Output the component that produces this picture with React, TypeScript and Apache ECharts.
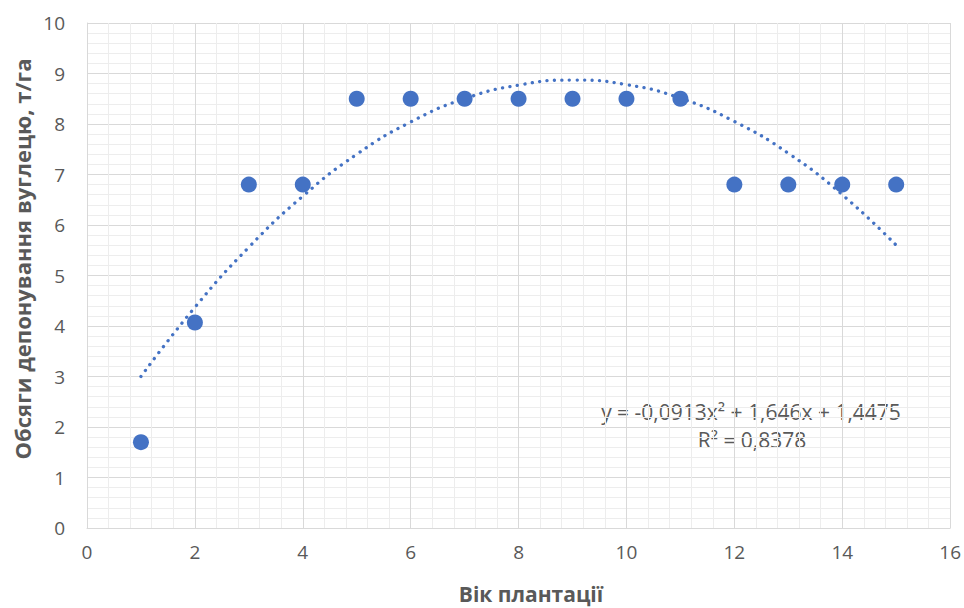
import React, { useEffect, useRef } from "react";
import * as echarts from "echarts";

const ages = [1, 2, 3, 4, 5, 6, 7, 8, 9, 10, 11, 12, 13, 14, 15];
const carbon = [1.7, 4.07, 6.8, 6.8, 8.5, 8.5, 8.5, 8.5, 8.5, 8.5, 8.5, 6.8, 6.8, 6.8, 6.8];
const trendValues = [3.0, 4.37, 5.56, 6.57, 7.4, 8.04, 8.5, 8.77, 8.87, 8.78, 8.51, 8.05, 7.42, 6.6, 5.6];
const equationText = "y = -0,0913x² + 1,646x + 1,4475";
const r2Text = "R² = 0,8378";
const xTitle = "Вік плантації";
const yTitle = "Обсяги депонування вуглецю, т/га";

const FONT = "'Open Sans', 'Liberation Sans', sans-serif";
const TXT = "#595959";

export default function App() {
  const ref = useRef<HTMLDivElement>(null);
  useEffect(() => {
    if (!ref.current) return;
    const chart = echarts.init(ref.current, undefined, { renderer: "svg" });
    chart.setOption({
      animation: false,
      backgroundColor: "#ffffff",
      grid: { left: 87, right: 13, top: 23, bottom: 80 },
      xAxis: {
        type: "value",
        min: 0,
        max: 16,
        interval: 2,
        axisLine: { show: true, lineStyle: { color: "#d9d9d9", width: 1 } },
        axisTick: { show: false },
        axisLabel: { fontFamily: FONT, fontSize: 19, color: TXT, margin: 14 },
        splitLine: { show: true, lineStyle: { color: "#d9d9d9", width: 1 } },
        minorTick: { show: false, splitNumber: 5 },
        minorSplitLine: { show: true, lineStyle: { color: "#ededed", width: 1 } },
      },
      yAxis: {
        type: "value",
        min: 0,
        max: 10,
        interval: 1,
        axisLine: { show: true, lineStyle: { color: "#d9d9d9", width: 1 } },
        axisTick: { show: false },
        axisLabel: { fontFamily: FONT, fontSize: 19, color: TXT, margin: 22 },
        splitLine: { show: true, lineStyle: { color: "#d9d9d9", width: 1 } },
        minorTick: { show: false, splitNumber: 5 },
        minorSplitLine: { show: true, lineStyle: { color: "#ededed", width: 1 } },
      },
      series: [
        {
          type: "line",
          data: ages.map((a, i) => [a, trendValues[i]]),
          smooth: true,
          symbol: "none",
          lineStyle: { color: "#4472c4", width: 3.3, type: [0.1, 7.4], cap: "round" },
          z: 2,
        },
        {
          type: "scatter",
          data: ages.map((a, i) => [a, carbon[i]]),
          symbol: "circle",
          symbolSize: 16,
          itemStyle: { color: "#4472c4", opacity: 1 },
          z: 3,
        },
      ],
      graphic: [
        {
          type: "text",
          x: 751,
          y: 412,
          style: {
            text: equationText,
            fontFamily: FONT,
            fontSize: 21,
            fill: TXT,
            align: "center",
            verticalAlign: "middle",
          },
        },
        {
          type: "text",
          x: 752,
          y: 440,
          style: {
            text: r2Text,
            fontFamily: FONT,
            fontSize: 21,
            fill: TXT,
            align: "center",
            verticalAlign: "middle",
          },
        },
        {
          type: "text",
          x: 531,
          y: 594,
          style: {
            text: xTitle,
            fontFamily: FONT,
            fontSize: 21,
            fontWeight: "bold",
            fill: TXT,
            align: "center",
            verticalAlign: "middle",
          },
        },
        {
          type: "text",
          x: 22,
          y: 259,
          rotation: Math.PI / 2,
          style: {
            text: yTitle,
            fontFamily: FONT,
            fontSize: 22,
            fontWeight: "bold",
            fill: TXT,
            align: "center",
            verticalAlign: "middle",
          },
        },
      ],
    });
    return () => chart.dispose();
  }, []);
  return (
    <div
      ref={ref}
      style={{ position: "absolute", left: 0, top: 0, width: 964, height: 608 }}
    />
  );
}
